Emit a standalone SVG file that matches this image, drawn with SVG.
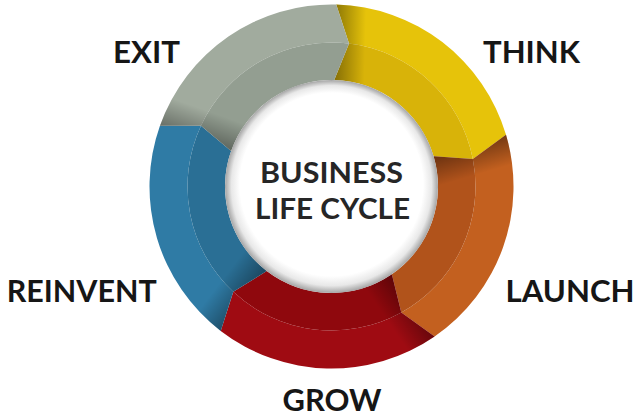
<svg xmlns="http://www.w3.org/2000/svg" width="640" height="419" viewBox="0 0 640 419">
<style>
  .lbl { font-family: Lato, "Open Sans", "Liberation Sans", sans-serif; font-weight: 700; font-size: 31px; fill: #161616; text-anchor: middle; }
  .ctr { font-family: Lato, "Open Sans", "Liberation Sans", sans-serif; font-weight: 700; font-size: 29px; fill: #262626; text-anchor: middle; }
</style>
<defs>
  <radialGradient id="hole" cx="50%" cy="50%" r="50%" fx="50%" fy="43%">
    <stop offset="0" stop-color="#ffffff"/>
    <stop offset="0.86" stop-color="#ffffff"/>
    <stop offset="0.94" stop-color="#e8e8e8"/>
    <stop offset="1" stop-color="#a4a4a4"/>
  </radialGradient>
  <linearGradient id="sh0" gradientUnits="userSpaceOnUse" x1="335.3" y1="42.5" x2="365.3" y2="43.3">
    <stop offset="0" stop-color="#000" stop-opacity="0.38"/><stop offset="1" stop-color="#000" stop-opacity="0"/>
  </linearGradient>
  <linearGradient id="sh1" gradientUnits="userSpaceOnUse" x1="469.6" y1="145.6" x2="478.1" y2="174.4">
    <stop offset="0" stop-color="#000" stop-opacity="0.4"/><stop offset="1" stop-color="#000" stop-opacity="0"/>
  </linearGradient>
  <linearGradient id="sh2" gradientUnits="userSpaceOnUse" x1="413.1" y1="305.2" x2="388.3" y2="322.2">
    <stop offset="0" stop-color="#000" stop-opacity="0.35"/><stop offset="1" stop-color="#000" stop-opacity="0"/>
  </linearGradient>
  <linearGradient id="sh3" gradientUnits="userSpaceOnUse" x1="243.8" y1="300.7" x2="220.0" y2="282.5">
    <stop offset="0" stop-color="#000" stop-opacity="0.35"/><stop offset="1" stop-color="#000" stop-opacity="0"/>
  </linearGradient>
  <linearGradient id="sh4" gradientUnits="userSpaceOnUse" x1="195.8" y1="138.4" x2="205.8" y2="110.2">
    <stop offset="0" stop-color="#000" stop-opacity="0.35"/><stop offset="1" stop-color="#000" stop-opacity="0"/>
  </linearGradient>
</defs>
<rect width="640" height="419" fill="#ffffff"/>

<g id="think-segment">
  <path d="M336.26 4.56 A182 182 0 0 1 506.01 134.81 L472.85 159.02 A144 144 0 0 0 349.05 43.57 Z" fill="#e6c30a"/>
  <path d="M349.05 43.57 A144 144 0 0 1 472.85 159.02 L433.61 156.25 A106.5 106.5 0 0 0 334.29 80.04 Z" fill="#d8b309"/>
  <path d="M336.26 4.56 A182 182 0 0 1 506.01 134.81 L472.85 159.02 L433.61 156.25 A106.5 106.5 0 0 0 334.29 80.04 L349.05 43.57 Z" fill="url(#sh0)"/>
</g>
<g id="launch-segment">
  <path d="M506.01 134.81 A182 182 0 0 1 434.59 336.49 L401.31 312.45 A144 144 0 0 0 472.85 159.02 Z" fill="#c3601f"/>
  <path d="M472.85 159.02 A144 144 0 0 1 401.31 312.45 L391.82 274.27 A106.5 106.5 0 0 0 433.61 156.25 Z" fill="#b1531b"/>
  <path d="M506.01 134.81 A182 182 0 0 1 434.59 336.49 L401.31 312.45 L391.82 274.27 A106.5 106.5 0 0 0 433.61 156.25 L472.85 159.02 Z" fill="url(#sh1)"/>
</g>
<g id="grow-segment">
  <path d="M434.59 336.49 A182 182 0 0 1 220.71 330.89 L233.29 291.81 A144 144 0 0 0 401.31 312.45 Z" fill="#9f0b12"/>
  <path d="M401.31 312.45 A144 144 0 0 1 233.29 291.81 L266.67 270.99 A106.5 106.5 0 0 0 391.82 274.27 Z" fill="#8f080d"/>
  <path d="M434.59 336.49 A182 182 0 0 1 220.71 330.89 L233.29 291.81 L266.67 270.99 A106.5 106.5 0 0 0 391.82 274.27 L401.31 312.45 Z" fill="url(#sh2)"/>
</g>
<g id="reinvent-segment">
  <path d="M220.71 330.89 A182 182 0 0 1 159.94 125.75 L200.99 125.64 A144 144 0 0 0 233.29 291.81 Z" fill="#2f7ba5"/>
  <path d="M233.29 291.81 A144 144 0 0 1 200.99 125.64 L231.11 150.95 A106.5 106.5 0 0 0 266.67 270.99 Z" fill="#2a6f95"/>
  <path d="M220.71 330.89 A182 182 0 0 1 159.94 125.75 L200.99 125.64 L231.11 150.95 A106.5 106.5 0 0 0 266.67 270.99 L233.29 291.81 Z" fill="url(#sh3)"/>
</g>
<g id="exit-segment">
  <path d="M159.94 125.75 A182 182 0 0 1 336.26 4.56 L349.05 43.57 A144 144 0 0 0 200.99 125.64 Z" fill="#a1ab9e"/>
  <path d="M200.99 125.64 A144 144 0 0 1 349.05 43.57 L334.29 80.04 A106.5 106.5 0 0 0 231.11 150.95 Z" fill="#939e91"/>
  <path d="M159.94 125.75 A182 182 0 0 1 336.26 4.56 L349.05 43.57 L334.29 80.04 A106.5 106.5 0 0 0 231.11 150.95 L200.99 125.64 Z" fill="url(#sh4)"/>
</g>

<g id="center">
  <circle cx="331.5" cy="186.5" r="106.5" fill="url(#hole)"/>
  <text class="ctr" x="331.5" y="183" textLength="143" lengthAdjust="spacingAndGlyphs">BUSINESS</text>
  <text class="ctr" x="332.5" y="218.5" textLength="155" lengthAdjust="spacingAndGlyphs">LIFE CYCLE</text>
</g>

<g id="label-exit"><text class="lbl" x="146.5" y="63" textLength="67" lengthAdjust="spacingAndGlyphs">EXIT</text></g>
<g id="label-think"><text class="lbl" x="531.5" y="63" textLength="97" lengthAdjust="spacingAndGlyphs">THINK</text></g>
<g id="label-reinvent"><text class="lbl" x="81.7" y="302" textLength="150" lengthAdjust="spacingAndGlyphs">REINVENT</text></g>
<g id="label-launch"><text class="lbl" x="570" y="302" textLength="129" lengthAdjust="spacingAndGlyphs">LAUNCH</text></g>
<g id="label-grow"><text class="lbl" x="332" y="411" textLength="99" lengthAdjust="spacingAndGlyphs">GROW</text></g>
<g id="connectors"/>
</svg>
